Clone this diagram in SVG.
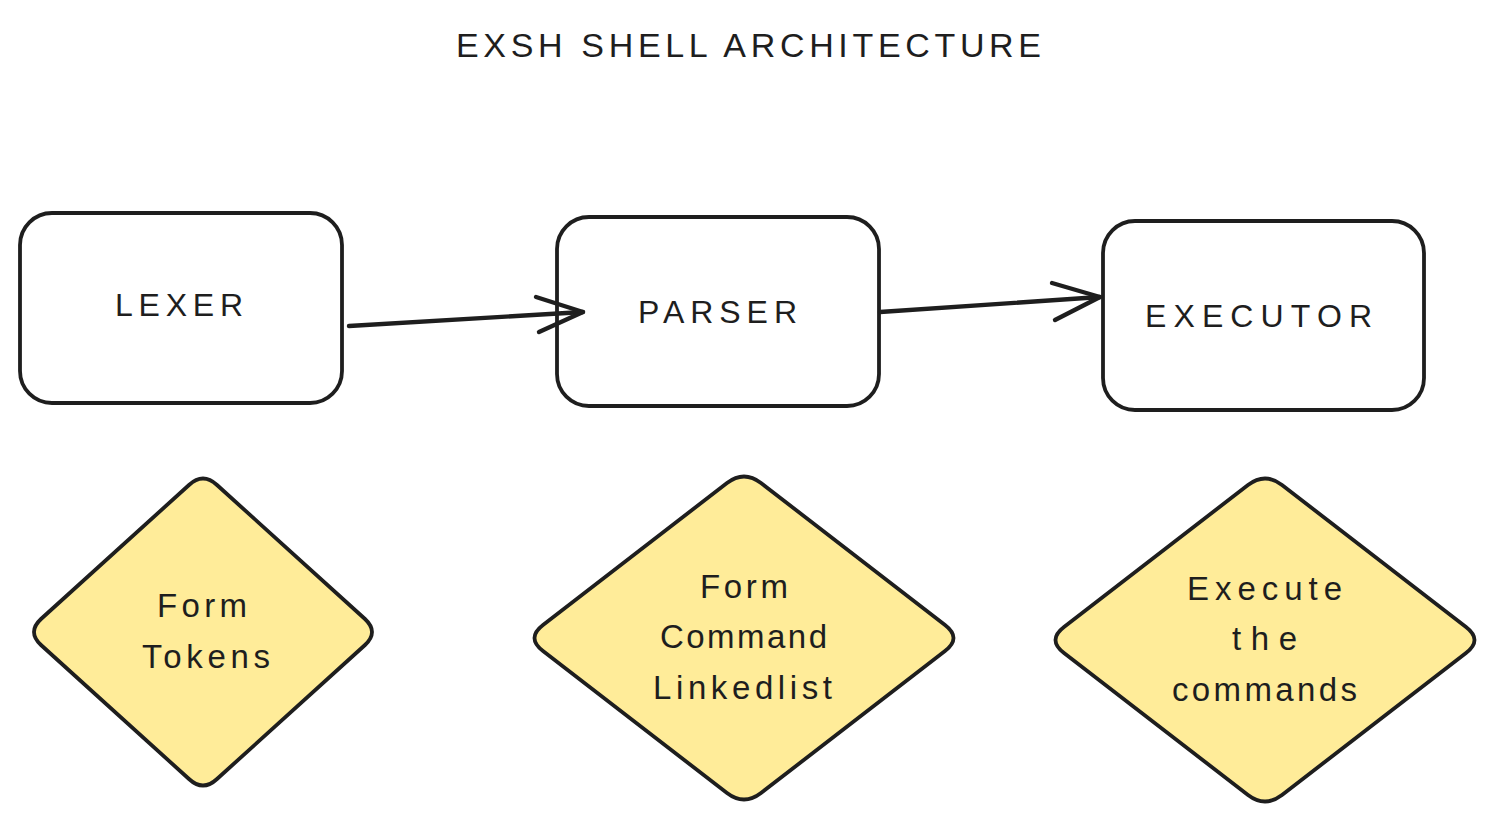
<svg xmlns="http://www.w3.org/2000/svg" width="1505" height="830" viewBox="0 0 1505 830">
<style>
.bg{fill:#ffffff}
.box{fill:#ffffff;stroke:#1e1e1e;stroke-width:3.8;stroke-linejoin:round}
.dia{fill:#ffec99;stroke:#1e1e1e;stroke-width:3.8;stroke-linejoin:round}
.conn{fill:none;stroke:#1e1e1e;stroke-width:4.4;stroke-linecap:round;stroke-linejoin:round}
.t{font-family:"Liberation Sans","DejaVu Sans",sans-serif;fill:#1e1e1e}
.lbl{font-size:32px}
.dt{font-size:33px}
.title{font-size:34px}
</style>
<defs>
<path id="d1" d="M-14,-147 Q0,-160 14,-147 L162,-13 Q176,0 162,13 L14,147 Q0,160 -14,147 L-162,13 Q-176,0 -162,-13 Z"/>
<path id="d2" d="M-17,-155 Q0,-168 17,-155 L201,-13 Q218,0 201,13 L17,155 Q0,168 -17,155 L-201,13 Q-218,0 -201,-13 Z"/>
</defs>
<rect class="bg" x="0" y="0" width="1505" height="830"/>

<g id="title">
<text class="t title" x="456" y="57" textLength="585" lengthAdjust="spacing">EXSH SHELL ARCHITECTURE</text>
</g>

<g id="lexer">
<rect class="box" x="20" y="213" width="322" height="190" rx="32" ry="32"/>
<text class="t lbl" x="115" y="316" textLength="128" lengthAdjust="spacing">LEXER</text>
</g>

<g id="parser">
<rect class="box" x="557" y="217" width="322" height="189" rx="32" ry="32"/>
<text class="t lbl" x="638" y="323" textLength="159" lengthAdjust="spacing">PARSER</text>
</g>

<g id="executor">
<rect class="box" x="1103" y="221" width="321" height="189" rx="32" ry="32"/>
<text class="t lbl" x="1145" y="327" textLength="227" lengthAdjust="spacing">EXECUTOR</text>
</g>

<g id="form-tokens">
<use href="#d1" class="dia" transform="translate(203,632)"/>
<text class="t dt" x="157" y="617" textLength="90" lengthAdjust="spacing">Form</text>
<text class="t dt" x="142" y="668" textLength="128" lengthAdjust="spacing">Tokens</text>
</g>

<g id="form-command-linkedlist">
<use href="#d2" class="dia" transform="translate(744,638)"/>
<text class="t dt" x="700" y="598" textLength="88" lengthAdjust="spacing">Form</text>
<text class="t dt" x="660" y="648" textLength="167" lengthAdjust="spacing">Command</text>
<text class="t dt" x="653" y="699" textLength="179" lengthAdjust="spacing">Linkedlist</text>
</g>

<g id="execute-the-commands">
<use href="#d2" class="dia" transform="translate(1265,640)"/>
<text class="t dt" x="1187" y="600" textLength="155" lengthAdjust="spacing">Execute</text>
<text class="t dt" x="1232" y="650" textLength="65" lengthAdjust="spacing">the</text>
<text class="t dt" x="1172" y="701" textLength="185" lengthAdjust="spacing">commands</text>
</g>

<g id="connectors">
<path class="conn" d="M349,326 L583,312"/>
<path class="conn" d="M536,297 L583,312 L539,332"/>
<path class="conn" d="M880,312 L1100,297"/>
<path class="conn" d="M1052,283 L1100,297 L1055,320"/>
</g>
</svg>
